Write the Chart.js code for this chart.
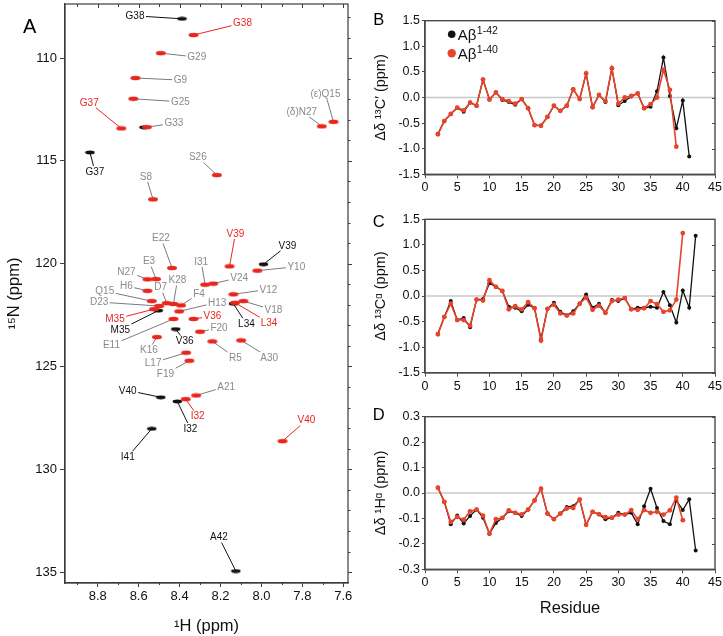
<!DOCTYPE html>
<html><head><meta charset="utf-8">
<script src="https://cdn.jsdelivr.net/npm/chart.js@4.4.1/dist/chart.umd.min.js"></script>
<style>
html,body{margin:0;padding:0;background:#fff;width:723px;height:636px;overflow:hidden}
canvas{position:absolute}
</style></head><body>
<canvas id="cA" width="360" height="636" style="left:0;top:0"></canvas>
<canvas id="cB" width="363" height="200" style="left:360px;top:0"></canvas>
<canvas id="cC" width="363" height="200" style="left:360px;top:200px"></canvas>
<canvas id="cD" width="363" height="236" style="left:360px;top:400px"></canvas>
<script>
// ---------------- DATA: panel A (HSQC peaks) ----------------
const peakNames = ['G38','G38','G29','G9','G25','G37','G33','G37','(δ)N27','(ε)Q15','S26','S8',
  'E22','V39','V39','Y10','N27','E3','H6','I31','V24','K28','D7','F4','V12','Q15','D23','H13',
  'L34','L34','V18','M35','M35','V36','E11','V36','F20','K16','R5','A30','L17','F19','A21',
  'V40','I32','I32','V40','I41','A42'];
// 'k' = Aβ1-42 only (black), 'r' = Aβ1-40 only (red), 'o' = overlapping (gray label)
const peakSet = ['k','r','o','o','o','r','o','k','o','o','o','o',
  'o','r','k','o','o','o','o','o','o','o','o','o','o','o','o','o',
  'r','k','o','r','k','r','o','k','o','o','o','o','o','o','o',
  'k','r','k','r','k','k'];
const peakH = [8.388,8.332,8.492,8.616,8.626,8.685,8.560,8.838,7.705,7.648,8.218,8.530,
  8.437,8.156,7.990,8.020,8.557,8.515,8.557,8.275,8.236,8.430,8.463,8.393,8.137,8.536,8.500,8.402,
  8.129,8.137,8.088,8.525,8.504,8.332,8.430,8.419,8.300,8.511,8.240,8.099,8.368,8.352,8.319,
  8.492,8.370,8.411,7.897,8.536,8.125];
const peakN = [108.09,108.88,109.76,110.97,111.98,113.42,113.36,114.59,113.32,113.10,115.69,116.87,
  120.21,120.13,120.03,120.34,120.76,120.75,121.32,121.02,120.97,121.96,121.92,122.03,121.49,121.82,122.06,122.32,
  121.90,121.95,121.82,122.21,122.28,122.69,122.69,123.18,123.31,123.57,123.78,123.73,124.33,124.72,126.41,
  126.50,126.59,126.70,128.63,128.03,134.95];
// unlabeled Aβ1-42 shoulder peak (G33)
const shoulderH = [8.574];
const shoulderN = [113.37];

const aHTicks = [8.8, 8.6, 8.4, 8.2, 8.0, 7.8, 7.6];
const aHMinor = [8.9,8.8,8.7,8.6,8.5,8.4,8.3,8.2,8.1,8.0,7.9,7.8,7.7,7.6];
const aNTicks = [110, 115, 120, 125, 130, 135];
const aNMinor = [108,109,110,111,112,113,114,115,116,117,118,119,120,121,122,123,124,125,126,127,128,129,130,131,132,133,134,135];

// ---------------- DATA: panels B-D ----------------
const residues = [2,3,4,5,6,7,8,9,10,11,12,13,14,15,16,17,18,19,20,21,22,23,24,25,26,27,28,29,30,31,32,33,34,35,36,37,38,39,40,41,42];
const resTicks = [0,5,10,15,20,25,30,35,40,45];
const cTicks = [-1.5,-1.0,-0.5,0,0.5,1.0,1.5];
const hTicks = [-0.3,-0.2,-0.1,0,0.1,0.2,0.3];

const coAb42 = [-0.71,-0.46,-0.32,-0.20,-0.28,-0.10,-0.16,0.35,-0.04,0.10,-0.05,-0.09,-0.14,-0.03,-0.21,-0.54,-0.55,-0.38,-0.16,
  -0.26,-0.16,0.16,-0.03,0.47,-0.19,0.05,-0.09,0.57,-0.15,-0.07,0.02,0.08,-0.21,-0.18,0.12,0.78,0.03,-0.60,-0.06,-1.15];
const coAb40 = [-0.72,-0.46,-0.32,-0.20,-0.25,-0.10,-0.16,0.35,-0.04,0.10,-0.03,-0.07,-0.12,-0.03,-0.21,-0.54,-0.55,-0.38,-0.16,
  -0.26,-0.16,0.16,-0.03,0.47,-0.19,0.05,-0.07,0.57,-0.12,0.00,0.03,0.08,-0.21,-0.13,0.00,0.54,0.15,-0.96];

const caAb42 = [-0.74,-0.41,-0.10,-0.47,-0.43,-0.61,-0.07,-0.06,0.25,0.18,0.10,-0.21,-0.23,-0.30,-0.17,-0.24,-0.84,-0.25,-0.13,
  -0.31,-0.38,-0.30,-0.15,0.03,-0.23,-0.15,-0.33,-0.08,-0.10,-0.04,-0.26,-0.23,-0.23,-0.21,-0.23,0.08,-0.18,-0.52,0.11,-0.23,1.18];
const caAb40 = [-0.75,-0.41,-0.15,-0.47,-0.47,-0.58,-0.07,-0.09,0.31,0.18,0.10,-0.26,-0.20,-0.26,-0.12,-0.24,-0.87,-0.25,-0.17,
  -0.34,-0.38,-0.34,-0.15,-0.03,-0.27,-0.19,-0.33,-0.10,-0.07,-0.04,-0.26,-0.27,-0.24,-0.10,-0.16,-0.31,-0.28,-0.07,1.23];

const haAb42 = [0.021,-0.035,-0.123,-0.088,-0.120,-0.090,-0.065,-0.097,-0.160,-0.118,-0.098,-0.072,-0.078,-0.090,-0.065,-0.029,0.017,-0.081,-0.103,
  -0.081,-0.055,-0.052,-0.026,-0.125,-0.074,-0.084,-0.103,-0.097,-0.078,-0.085,-0.078,-0.123,-0.052,0.017,-0.059,-0.110,-0.123,-0.029,-0.067,-0.025,-0.226];
const haAb40 = [0.021,-0.035,-0.114,-0.094,-0.105,-0.072,-0.065,-0.089,-0.160,-0.103,-0.098,-0.068,-0.078,-0.084,-0.065,-0.029,0.017,-0.081,-0.103,
  -0.081,-0.061,-0.059,-0.026,-0.125,-0.074,-0.084,-0.095,-0.097,-0.085,-0.085,-0.067,-0.103,-0.067,-0.078,-0.074,-0.085,-0.068,-0.018,-0.107];

// ---------------- LAYOUT (label offsets in px from peak) ----------------
const labelDX = [-47,49,36,45,47,-32,27,5,-20,-8,-19,-7,
  -11,6,24,39,-21,-7,-21,-4,26,4,-6,18,35,-47,-60,38,
  34,13,30,-39,-38,19,-62,9,19,-8,23,28,-33,-24,30,
  -33,12,13,24,-24,-17];
const labelDY = [-3,-12,4,2,3,-26,-4,19,-15,-28,-18,-23,
  -30,-33,-19,-4,-8,-18,-5,-23,-6,-24,-16,-12,-5,-10,-4,-9,
  20,20,9,10,19,-3,26,12,-4,13,16,17,10,13,-9,
  -7,17,27,-21,28,-34];

// ---------------- STYLE ----------------
const FONT = '"Liberation Sans", Arial, Helvetica, sans-serif';
Chart.defaults.font.family = FONT;
const RED_A = '#e8261e', BLACK = '#111111', GRAY_T = '#8a8a8a', GRAY_L = '#7a7a7a';
const RED_S = '#e8432b';
const FRAME = '#3c3c3c';

function makeEllipse(color, w, h){
  const c = document.createElement('canvas');
  c.width = w + 2; c.height = h + 2;
  const x = c.getContext('2d');
  x.fillStyle = color;
  x.beginPath(); x.ellipse(c.width/2, c.height/2, w/2, h/2, 0, 0, Math.PI*2); x.fill();
  return c;
}
const ellRed = makeEllipse(RED_A, 10, 4.4);
const ellBlack = makeEllipse(BLACK, 9.5, 3.8);

function noPad(s){ s.paddingTop = 0; s.paddingBottom = 0; s.paddingLeft = 0; s.paddingRight = 0; }

const letterPlugin = {
  id: 'letter',
  afterDraw(chart, args, opts){
    const ctx = chart.ctx;
    ctx.save();
    ctx.font = opts.size + 'px ' + FONT;
    ctx.fillStyle = '#000';
    ctx.textAlign = 'left'; ctx.textBaseline = 'alphabetic';
    ctx.fillText(opts.text, opts.x, opts.y);
    ctx.restore();
  }
};

// frame + mirrored ticks for panel A
const frameA = {
  id: 'frameA',
  afterDraw(chart){
    const {ctx, chartArea: a, scales: {x, y}} = chart;
    ctx.save();
    ctx.strokeStyle = FRAME; ctx.lineWidth = 1.2;
    ctx.strokeRect(a.left, a.top, a.right - a.left, a.bottom - a.top);
    ctx.lineWidth = 1;
    ctx.beginPath();
    aHMinor.forEach(v => {
      const px = Math.round(x.getPixelForValue(v)) + 0.5;
      const major = aHTicks.some(t => Math.abs(t - v) < 1e-6);
      ctx.moveTo(px, a.top); ctx.lineTo(px, a.top + (major ? 4 : 3));
      if (!major) { ctx.moveTo(px, a.bottom); ctx.lineTo(px, a.bottom + 2); }
    });
    aNMinor.forEach(v => {
      const py = Math.round(y.getPixelForValue(v)) + 0.5;
      const major = aNTicks.includes(v);
      ctx.moveTo(a.right, py); ctx.lineTo(a.right + (major ? 4 : 2.5), py);
    });
    ctx.stroke();
    ctx.restore();
  }
};

function labelGeom(chart){
  const {ctx, scales: {x, y}} = chart;
  ctx.font = '10px ' + FONT;
  return peakNames.map((name, i) => {
    const px = x.getPixelForValue(peakH[i]);
    const py = y.getPixelForValue(peakN[i]);
    const lx = px + labelDX[i], ly = py + labelDY[i];
    const hw = ctx.measureText(name).width / 2 + 1.5, hh = 5.5;
    const vx = px - lx, vy = py - ly;
    const t = Math.min(vx !== 0 ? hw / Math.abs(vx) : 1e9, vy !== 0 ? hh / Math.abs(vy) : 1e9);
    const sx = lx + vx * Math.min(t, 1), sy = ly + vy * Math.min(t, 1);
    const set = peakSet[i];
    return {name, px, py, lx, ly, sx, sy,
      text: set === 'k' ? BLACK : set === 'r' ? RED_A : GRAY_T,
      line: set === 'k' ? BLACK : set === 'r' ? RED_A : GRAY_L};
  });
}
const peakLabels = {
  id: 'peakLabels',
  beforeDatasetsDraw(chart){
    const ctx = chart.ctx;
    const g = labelGeom(chart);
    ctx.save();
    ctx.lineWidth = 1;
    g.forEach(p => {
      ctx.strokeStyle = p.line;
      ctx.beginPath(); ctx.moveTo(p.sx, p.sy); ctx.lineTo(p.px, p.py); ctx.stroke();
    });
    ctx.restore();
  },
  afterDatasetsDraw(chart){
    const ctx = chart.ctx;
    const g = labelGeom(chart);
    ctx.save();
    ctx.font = '10px ' + FONT;
    ctx.textAlign = 'center'; ctx.textBaseline = 'middle';
    g.forEach(p => { ctx.fillStyle = p.text; ctx.fillText(p.name, p.lx, p.ly + 0.5); });
    ctx.restore();
  }
};

const blackPeaks = [], redPeaks = [];
peakNames.forEach((n, i) => {
  (peakSet[i] === 'k' ? blackPeaks : redPeaks).push({x: peakH[i], y: peakN[i]});
});
shoulderH.forEach((h, i) => blackPeaks.push({x: h, y: shoulderN[i]}));

new Chart(document.getElementById('cA'), {
  type: 'scatter',
  data: { datasets: [
    { label: 'Aβ1-42', data: blackPeaks, pointStyle: ellBlack, pointRadius: 4, pointBorderWidth: 0, order: 2 },
    { label: 'Aβ1-40', data: redPeaks, pointStyle: ellRed, pointRadius: 4, pointBorderWidth: 0, order: 1 }
  ]},
  options: {
    responsive: false, animation: false, devicePixelRatio: 1,
    layout: { padding: { top: 4, right: 12, left: 0, bottom: 0 } },
    plugins: { legend: { display: false }, tooltip: { enabled: false },
      letter: { text: 'A', x: 23, y: 32.5, size: 20 } },
    scales: {
      x: {
        type: 'linear', reverse: true, min: 7.577, max: 8.96,
        afterBuildTicks: s => { s.ticks = aHTicks.map(v => ({value: v})); },
        afterFit: s => { s.height = 53; noPad(s); },
        grid: { drawOnChartArea: false, tickLength: 4, color: FRAME, tickWidth: 1 },
        border: { color: FRAME, width: 1.2 },
        ticks: { font: { size: 13 }, color: '#111', padding: 2, autoSkip: false, maxRotation: 0,
          callback: v => Number(v).toFixed(1) },
        title: { display: true, text: '¹H (ppm)', font: { size: 16.5 }, color: '#111', padding: { top: 0, bottom: 0 } }
      },
      y: {
        type: 'linear', reverse: true, min: 107.37, max: 135.53,
        afterBuildTicks: s => { s.ticks = aNTicks.map(v => ({value: v})); },
        afterFit: s => { s.width = 65; noPad(s); },
        grid: { drawOnChartArea: false, tickLength: 5, color: FRAME, tickWidth: 1 },
        border: { color: FRAME, width: 1.2 },
        ticks: { font: { size: 13 }, color: '#111', padding: 3, autoSkip: false,
          callback: v => String(Math.round(v)) },
        title: { display: true, text: '¹⁵N (ppm)', font: { size: 16.5 }, color: '#111', padding: { top: 5, bottom: 0 } }
      }
    }
  },
  plugins: [peakLabels, frameA, letterPlugin]
});

// ---------------- panels B-D ----------------
const framePanel = {
  id: 'framePanel',
  beforeDatasetsDraw(chart){
    const {ctx, chartArea: a, scales: {y}} = chart;
    const py = y.getPixelForValue(0);
    ctx.save();
    ctx.strokeStyle = '#c8c8c8'; ctx.lineWidth = 1.5;
    ctx.beginPath(); ctx.moveTo(a.left, py); ctx.lineTo(a.right, py); ctx.stroke();
    ctx.restore();
  },
  afterDraw(chart){
    const {ctx, chartArea: a, scales: {y}} = chart;
    ctx.save();
    ctx.strokeStyle = '#4a4a4a'; ctx.lineWidth = 1.4;
    ctx.strokeRect(a.left, a.top, a.right - a.left, a.bottom - a.top);
    ctx.lineWidth = 1;
    ctx.beginPath();
    y.ticks.forEach(t => {
      const py = Math.round(y.getPixelForValue(t.value)) + 0.5;
      ctx.moveTo(a.right, py); ctx.lineTo(a.right - 3, py);
    });
    ctx.stroke();
    ctx.restore();
  }
};

const abLegend = {
  id: 'abLegend',
  afterDraw(chart, args, opts){
    if (!opts.show) return;
    const {ctx, chartArea: a} = chart;
    const rows = [
      {c: BLACK, r: 3.8, sup: '1-42', y: a.top + 13.6},
      {c: RED_S, r: 4.2, sup: '1-40', y: a.top + 32.6}
    ];
    ctx.save();
    rows.forEach(row => {
      const cx = a.left + 26.7;
      ctx.fillStyle = row.c;
      ctx.beginPath(); ctx.arc(cx, row.y, row.r, 0, Math.PI*2); ctx.fill();
      ctx.fillStyle = '#111';
      ctx.textAlign = 'left'; ctx.textBaseline = 'alphabetic';
      ctx.font = '15px ' + FONT;
      const tx = cx + 6;
      ctx.fillText('Aβ', tx, row.y + 5.2);
      const w = ctx.measureText('Aβ').width;
      ctx.font = '10.5px ' + FONT;
      ctx.fillText(row.sup, tx + w + 0.5, row.y - 0.8);
    });
    ctx.restore();
  }
};

function pts(vals){ return vals.map((v, i) => ({x: residues[i], y: v})); }

function panel(id, b42, b40, yMin, yMax, yTicks, yTitle, xHeight, padTop, letter, showLegend, xTitle){
  return new Chart(document.getElementById(id), {
    type: 'scatter',
    data: { datasets: [
      { label: 'Aβ1-42', data: pts(b42), showLine: true, borderColor: BLACK, backgroundColor: BLACK,
        borderWidth: 1.3, pointRadius: 2, pointBorderWidth: 0, order: 2 },
      { label: 'Aβ1-40', data: pts(b40), showLine: true, borderColor: RED_S, backgroundColor: RED_S,
        borderWidth: 1.6, pointRadius: 2.4, pointBorderWidth: 0, order: 1 }
    ]},
    options: {
      responsive: false, animation: false, devicePixelRatio: 1,
      layout: { padding: { top: padTop, right: 8, left: 0, bottom: 0 } },
      plugins: { legend: { display: false }, tooltip: { enabled: false },
        letter: letter, abLegend: { show: showLegend } },
      scales: {
        x: {
          type: 'linear', min: 0, max: 45,
          afterBuildTicks: s => { s.ticks = resTicks.map(v => ({value: v})); },
          afterFit: s => { s.height = xHeight; noPad(s); },
          grid: { drawOnChartArea: false, tickLength: 4, color: '#4a4a4a' },
          border: { color: '#4a4a4a', width: 1.4 },
          ticks: { font: { size: 12.5 }, color: '#111', padding: 2, autoSkip: false, maxRotation: 0 },
          title: { display: !!xTitle, text: xTitle || '', font: { size: 16.5 }, color: '#111', padding: { top: 0, bottom: 18 } }
        },
        y: {
          type: 'linear', min: yMin, max: yMax,
          afterBuildTicks: s => { s.ticks = yTicks.map(v => ({value: v})); },
          afterFit: s => { s.width = 65; noPad(s); },
          grid: { drawOnChartArea: false, tickLength: 3, color: '#4a4a4a' },
          border: { color: '#4a4a4a', width: 1.4 },
          ticks: { font: { size: 12.5 }, color: '#111', padding: 2, autoSkip: false,
            callback: v => Number(v).toFixed(1) },
          title: { display: true, text: yTitle, font: { size: 14.5 }, color: '#111', padding: { top: 12, bottom: 0 } }
        }
      }
    },
    plugins: [framePanel, abLegend, letterPlugin]
  });
}

panel('cB', coAb42, coAb40, -1.5, 1.5, cTicks, 'Δδ ¹³C′ (ppm)', 25.7, 20.7,
  { text: 'B', x: 13.3, y: 25, size: 16.5 }, true, null);
panel('cC', caAb42, caAb40, -1.5, 1.5, cTicks, 'Δδ ¹³Cᵅ (ppm)', 27.3, 19.3,
  { text: 'C', x: 12.7, y: 26.7, size: 16.5 }, false, null);
panel('cD', haAb42, haAb40, -0.3, 0.3, hTicks, 'Δδ ¹Hᵅ (ppm)', 66.7, 16.7,
  { text: 'D', x: 12.7, y: 20, size: 16.5 }, false, 'Residue');
</script>
</body></html>
